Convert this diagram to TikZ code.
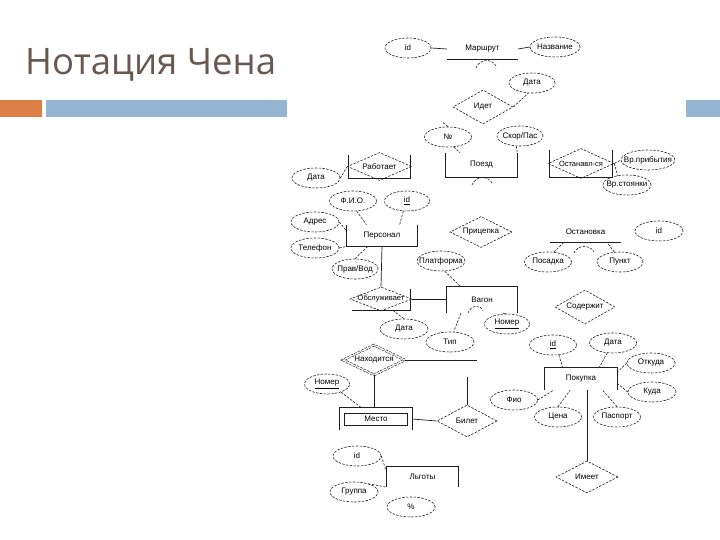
\documentclass[tikz,border=0pt]{standalone}
\usepackage{fontspec}
\setmainfont{Liberation Sans}
\newfontfamily\titlefont{Open Sans}
\usetikzlibrary{shapes.geometric,calc}
\definecolor{orangebar}{RGB}{221,128,71}
\definecolor{bluebar}{RGB}{148,182,210}
\definecolor{titlecol}{RGB}{105,88,80}
\definecolor{linecol}{RGB}{30,30,30}
\begin{document}
\begin{tikzpicture}[x=1pt,y=-1pt,
  lbl/.style={font=\fontsize{8}{9}\selectfont},
  attr/.style={ellipse, draw=linecol, dash pattern=on 2.4pt off 1.4pt, line width=0.6pt,
    minimum width=#1, minimum height=20, inner sep=-5pt, lbl},
  attr/.default=47,
  rel/.style={diamond, aspect=2, draw=linecol, dash pattern=on 2.4pt off 1.4pt, line width=0.6pt,
    minimum width=60, minimum height=32, inner sep=-4pt, lbl},
  ent/.style={rectangle, minimum width=70, minimum height=22, inner sep=0pt, lbl},
  conn/.style={draw=linecol, line width=0.7pt},
  aconn/.style={draw=linecol, dash pattern=on 2.4pt off 1.4pt, line width=0.6pt}
]
\useasboundingbox (0,0) rectangle (720,540);
\fill[white] (0,0) rectangle (720,540);

% slide decoration
\node[anchor=base west, font=\titlefont\fontsize{36.5}{42}\selectfont, text=titlecol, inner sep=0pt] (title) at (25,75) {Нотация Чена};
\fill[orangebar] (0,100) rectangle (42,117);
\fill[bluebar] (46,100) rectangle (287,117);
\fill[bluebar] (686,100) rectangle (720,117);

% ---------- Маршрут ----------
\node[ent, minimum width=71, minimum height=20] (mar) at (482.5,49) {Маршрут};
\draw[conn] (mar.south west) -- (mar.south east);
\node[attr=46] (idm) at (408,48) {id};
\node[attr=50] (nazv) at (555,47) {Название};
\draw[conn] (idm.east) -- (mar.west);
\draw[conn] (mar.east) -- (nazv.west);
\draw[aconn] (476,68) .. controls (479,59) and (492,58) .. (496,66);

% ---------- Идет ----------
\node[rel, minimum width=60, minimum height=34] (idet) at (483,107) {Идет};
\node[attr=46] (datam) at (532,83) {Дата};
\draw[aconn] (idet.east) -- (datam.250);

% ---------- Поезд ----------
\node[ent, minimum width=71, minimum height=24] (poezd) at (481.5,165) {Поезд};
\draw[conn] (poezd.north west) -- (poezd.south west) -- (poezd.south east) -- (poezd.north east);
\node[attr=47] (num) at (448,137) {№};
\node[attr=46] (skor) at (520,136) {Скор/Пас};
\draw[aconn] (num.north) -- ($(num.north)+(-6,-5)$);
\draw[aconn] (num.300) -- ($(poezd.north west)!.2!(poezd.north east)$);
\draw[aconn] (skor.250) -- (poezd.north east);
\draw[aconn] (472,185) .. controls (475,176) and (488,175) .. (492,183);

% ---------- Останавливается ----------
\node[ent, minimum width=62, minimum height=27] (ost) at (581,163.5) {};
\draw[conn] (ost.north west) -- (ost.south west) -- (ost.south east) -- (ost.north east);
\node[rel, minimum width=66, minimum height=30, font=\fontsize{7.5}{9}\selectfont] (ostd) at (581,163.5) {Останавл-ся};
\node[attr=50] (vrpr) at (648,160) {Вр.прибытия};
\node[attr=48] (vrst) at (627,185) {Вр.стоянки};
\draw[aconn] (ostd.east) -- (vrpr.west);
\draw[aconn] (ostd.east) -- (vrst.135);

% ---------- Работает ----------
\node[ent, minimum width=61, minimum height=23] (rab) at (379.5,166.5) {};
\draw[conn] (rab.north west) -- (rab.south west) -- (rab.south east) -- (rab.north east);
\node[rel, minimum width=64, minimum height=28] (rabd) at (379.5,166.5) {Работает};
\node[attr=48] (datar) at (316,178) {Дата};
\draw[aconn] (datar.east) -- (rabd.west);

% ---------- Персонал ----------
\node[ent, minimum width=70, minimum height=21] (pers) at (382,235.5) {Персонал};
\draw[conn] (pers.north west) -- (pers.south west) -- (pers.south east) -- (pers.north east);
\node[attr=47] (fio) at (353,201) {Ф.И.О.};
\node[attr=45] (idp) at (407,201) {\underline{id}};
\node[attr=48] (adr) at (315,222) {Адрес};
\node[attr=48] (tel) at (315,248) {Телефон};
\node[attr=46] (prav) at (355,269) {Прав/Вод};
\draw[aconn] (fio.290) -- ($(pers.north west)!.28!(pers.north east)$);
\draw[aconn] (idp.250) -- ($(pers.north west)!.75!(pers.north east)$);
\draw[aconn] (adr.east) -- ($(pers.north west)!.3!(pers.south west)$);
\draw[aconn] (tel.east) -- (pers.south west);
\draw[aconn] (prav.north) -- ($(pers.south west)!.3!(pers.south east)$);

% ---------- Прицепка ----------
\node[rel, minimum width=62, minimum height=31] (pric) at (481,232) {Прицепка};

% ---------- Остановка ----------
\node[ent, minimum width=71, minimum height=20] (ostn) at (585.5,232) {Остановка};
\draw[conn] (ostn.south west) -- (ostn.south east);
\node[attr=48] (ido) at (659,231) {id};
\node[attr=47] (posad) at (548,262) {Посадка};
\node[attr=46] (punkt) at (620,262) {Пункт};
\draw[aconn] (posad.60) -- ($(ostn.south west)!.2!(ostn.south east)$);
\draw[aconn] (punkt.120) -- ($(ostn.south west)!.8!(ostn.south east)$);
\draw[aconn] (574,253) .. controls (577,245) and (590,244) .. (594,252);

% ---------- Обслуживает ----------
\node[ent, minimum width=58, minimum height=21] (obs) at (381,299.5) {};
\draw[conn] (obs.north east) -- (obs.south east) -- (obs.south west);
\node[rel, minimum width=62, minimum height=24, font=\fontsize{7.5}{9}\selectfont] (obsd) at (381,299) {Обслуживает};
\node[attr=48] (datao) at (404,329) {Дата};
\draw[conn] (pers.south) -- (obsd.north);
\draw[aconn] ($(obs.south west)!.7!(obs.south east)$) -- (datao.north);

% ---------- Вагон ----------
\node[ent, minimum width=70, minimum height=26] (vag) at (482,300) {Вагон};
\draw[conn] (vag.south west) -- (vag.north west) -- (vag.north east) -- (vag.south east);
\node[attr=47] (platf) at (441,261) {Платформа};
\node[attr=48] (tip) at (450,342) {Тип};
\node[attr=45] (nomv) at (507,324) {\underline{Номер}};
\draw[conn] (obsd.east) -- (obsd.east -| vag.west);
\draw[aconn] (platf.290) -- ($(vag.north west)!.2!(vag.north east)$);
\draw[aconn] ($(vag.south west)!.2!(vag.south east)$) -- (tip.70);
\draw[aconn] ($(vag.south west)!.8!(vag.south east)$) -- (nomv.north);
\draw[aconn] (468,313) .. controls (471,305) and (480,304) .. (483,311);

% ---------- Содержит ----------
\node[rel, minimum width=60, minimum height=34] (sod) at (585,307) {Содержит};

% ---------- Находится / Место / Билет ----------
\node[rel, minimum width=62, minimum height=30, double, double distance=1.3pt] (nah) at (374,360) {Находится};
\coordinate (nahend) at (477,360);
\coordinate (bilup) at (467,377);
\node[ent, minimum width=72, minimum height=22] (mesto) at (376,419) {};
\draw[conn] (mesto.south west) -- (mesto.north west) -- (mesto.north east) -- (mesto.south east);
\node[ent, draw=linecol, line width=0.7pt, minimum width=63, minimum height=12] (mestoi) at (376,419) {Место};
\node[attr=45] (nomm) at (327,384) {\underline{Номер}};
\node[rel, minimum width=60, minimum height=32] (bil) at (467,421) {Билет};
\draw[conn] (nah.east) -- (nahend);
\draw[conn] (bilup) -- (bil.north);
\draw[conn] (nah.south) -- (nah.south |- mesto.north);
\draw[aconn] (nomm.330) -- ($(mesto.north west)!.3!(mesto.north east)$);
\draw[conn] (mesto.east) -- (bil.west);

% ---------- Покупка ----------
\node[ent, minimum width=72, minimum height=22] (pok) at (581,379) {Покупка};
\draw[conn] (pok.south west) -- (pok.north west) -- (pok.north east) -- (pok.south east);
\node[attr=47] (idpk) at (553,345) {\underline{id}};
\node[attr=47] (datapk) at (613,343) {Дата};
\node[attr=48] (otk) at (651,363) {Откуда};
\node[attr=48] (kuda) at (652,392) {Куда};
\node[attr=47] (fiopk) at (514,400) {Фио};
\node[attr=47] (cena) at (558,417) {Цена};
\node[attr=47] (pasp) at (617,417) {Паспорт};
\draw[aconn] (idpk.300) -- ($(pok.north west)!.25!(pok.north east)$);
\draw[aconn] (datapk.240) -- ($(pok.north west)!.75!(pok.north east)$);
\draw[aconn] (otk.west) -- ($(pok.north east)!.2!(pok.south east)$);
\draw[aconn] (kuda.west) -- ($(pok.north east)!.7!(pok.south east)$);
\draw[aconn] (pasp.north) -- ($(pok.south west)!.8!(pok.south east)$);
\draw[aconn] (cena.north) -- ($(pok.south west)!.35!(pok.south east)$);
\draw[aconn] (fiopk.east) -- ($(pok.south west)!.12!(pok.south east)$);
\node[rel, minimum width=62, minimum height=32] (imeet) at (587,477) {Имеет};
\draw[conn] (imeet.north) -- (imeet.north |- pok.south);

% ---------- Льготы ----------
\node[ent, minimum width=71, minimum height=20] (lg) at (422.5,477) {Льготы};
\draw[conn] (lg.south west) -- (lg.north west) -- (lg.north east) -- (lg.south east);
\node[attr=48] (idl) at (357,456) {id};
\node[attr=48] (grp) at (354,492) {Группа};
\node[attr=48] (proc) at (411,507) {\%};
\draw[aconn] (idl.east) -- ($(lg.north west)!.3!(lg.south west)$);
\draw[aconn] (grp.30) -- (lg.south west);
\end{tikzpicture}
\end{document}
